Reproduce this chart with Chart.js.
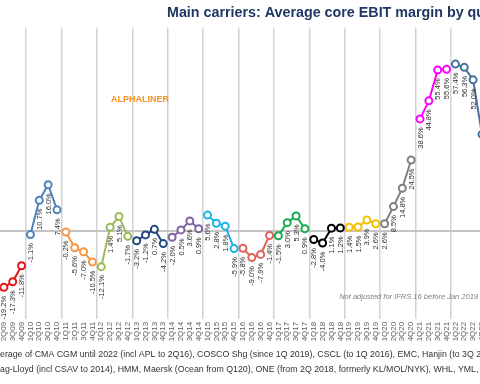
<!DOCTYPE html>
<html>
<head>
<meta charset="utf-8">
<script src="https://cdn.jsdelivr.net/npm/chart.js@4.4.1/dist/chart.umd.min.js"></script>
<style>
  html, body { margin: 0; padding: 0; width: 480px; height: 384px; overflow: hidden; background: #fff; }
  /* le graphique d'origine est recadré : on le dessine plus large et on le décale */
  #wrap { position: absolute; left: -20px; top: 0; width: 520px; height: 384px; }
</style>
</head>
<body>
<div id="wrap"><canvas id="ebitChart"></canvas></div>
<script>
// années affichées (1Q09 -> 4Q22)
var years = ['09', '10', '11', '12', '13', '14', '15', '16', '17', '18', '19', '20', '21', '22'];

// marge EBIT moyenne par trimestre (%), une liste par année
var ebit2009 = [-21.0, -19.2, -17.3, -11.8];
var ebit2010 = [-1.1, 10.7, 16.0, 7.4];
var ebit2011 = [-0.2, -5.6, -7.0, -10.5];
var ebit2012 = [-12.1, 1.4, 5.1, -1.7];
var ebit2013 = [-3.2, -1.2, 0.7, -4.2];
var ebit2014 = [-2.0, 0.5, 3.6, 0.9];
var ebit2015 = [5.6, 2.8, 1.8, -5.9];
var ebit2016 = [-5.8, -9.0, -7.9, -1.4];
var ebit2017 = [-1.5, 3.0, 5.3, 0.9];
var ebit2018 = [-2.8, -4.0, 1.1, 1.2];
var ebit2019 = [1.4, 1.5, 3.9, 2.6];
var ebit2020 = [2.6, 8.5, 14.8, 24.5];
var ebit2021 = [38.6, 44.8, 55.4, 55.6];
var ebit2022 = [57.4, 56.3, 52.0, 33.3];

var ebitByYear = [ebit2009, ebit2010, ebit2011, ebit2012, ebit2013, ebit2014, ebit2015,
                  ebit2016, ebit2017, ebit2018, ebit2019, ebit2020, ebit2021, ebit2022];

var yearColors = ['#e8141c', '#4f81bd', '#f79646', '#9bbb59', '#1f497d', '#8064a2', '#1cb2e8',
                  '#e0625a', '#14ad4e', '#000000', '#f5c000', '#808080', '#ff00ff', '#45729f'];

var shiftX = 20; // décalage du cadre (px)

var quarters = [];
years.forEach(function (y) {
  for (var q = 1; q <= 4; q++) quarters.push(q + 'Q' + y);
});

// un dataset par année, pour que les lignes ne se rejoignent pas
var datasets = ebitByYear.map(function (vals, i) {
  var d = quarters.map(function () { return null; });
  vals.forEach(function (v, k) { d[i * 4 + k] = v; });
  return {
    label: '20' + years[i],
    data: d,
    borderColor: yearColors[i],
    backgroundColor: '#ffffff',
    pointBackgroundColor: '#ffffff',
    pointBorderColor: yearColors[i],
    borderWidth: 2,
    pointRadius: 3.5,
    pointBorderWidth: 2,
    spanGaps: false
  };
});

var textPlugin = {
  id: 'textes',
  afterDatasetsDraw: function (chart) {
    var c = chart.ctx;
    // étiquettes de valeurs, verticales, sous chaque point
    chart.data.datasets.forEach(function (ds, i) {
      var meta = chart.getDatasetMeta(i);
      meta.data.forEach(function (pt, j) {
        var v = ds.data[j];
        if (v === null) return;
        c.save();
        c.translate(pt.x + 0.5, pt.y + 8.5);
        c.rotate(-Math.PI / 2);
        c.textAlign = 'right';
        c.textBaseline = 'middle';
        c.font = '7.5px "Liberation Sans", Arial, sans-serif';
        c.fillStyle = '#2e2e2e';
        c.fillText(v.toFixed(1) + '%', 0, 0);
        c.restore();
      });
    });
  },
  afterDraw: function (chart) {
    var c = chart.ctx;
    c.save();
    // titre
    c.font = 'bold 14.3px "Liberation Sans", Arial, sans-serif';
    c.fillStyle = '#1f3864';
    c.textAlign = 'left';
    c.textBaseline = 'middle';
    c.fillText('Main carriers: Average core EBIT margin by quarter', 167 + shiftX, 13);

    c.font = 'bold 9px "Liberation Sans", Arial, sans-serif';
    c.fillStyle = '#f7901e';
    c.textAlign = 'center';
    c.fillText('ALPHALINER', 140 + shiftX, 100);

    c.font = 'italic 7.5px "Liberation Sans", Arial, sans-serif';
    c.fillStyle = '#808080';
    c.textAlign = 'right';
    c.fillText('Not adjusted for IFRS 16 before Jan 2019', 478 + shiftX, 297);

    // notes du bas (coupées à gauche comme l'original)
    c.font = '8.8px "Liberation Sans Narrow", "Liberation Sans", Arial, sans-serif';
    c.fillStyle = '#333333';
    c.textAlign = 'left';
    var l1 = 'Average of CMA CGM until 2022 (incl APL to 2Q16), COSCO Shg (since 1Q 2019), CSCL (to 1Q 2016), EMC, Hanjin (to 3Q 2016),';
    var l2 = 'Hapag-Lloyd (incl CSAV to 2014), HMM, Maersk (Ocean from Q120), ONE (from 2Q 2018, formerly KL/MOL/NYK), WHL, YML, ZIM';
    c.fillText(l1, shiftX - c.measureText('Av').width, 355);
    c.fillText(l2, shiftX - c.measureText('Hap').width, 370);
    c.restore();
  }
};

var ctx = document.getElementById('ebitChart');

var options = {
  responsive: true,
  maintainAspectRatio: false,
  animation: false,
  layout: { padding: { top: 27.4, bottom: 39.2, left: 10.6, right: 13.6 } },
  plugins: { legend: { display: false }, tooltip: { enabled: false }, title: { display: false } },
  scales: {
    x: {
      type: 'category',
      offset: true,
      border: { display: false },
      grid: {
        offset: true,
        drawTicks: false,
        lineWidth: 1.5,
        color: function (c) { return c.index % 4 === 0 ? '#d2d2d2' : 'rgba(0,0,0,0)'; }
      },
      ticks: {
        autoSkip: false,
        maxRotation: 90,
        minRotation: 90,
        padding: 3,
        color: '#606060',
        font: { size: 8, family: '"Liberation Sans", Arial, sans-serif' }
      },
      afterFit: function (s) { s.height = 26; }
    },
    y: {
      min: -30,
      max: 70,
      border: { display: false },
      grid: {
        drawTicks: false,
        lineWidth: 2,
        color: function (c) { return c.tick && c.tick.value === 0 ? '#c4c4c4' : 'rgba(0,0,0,0)'; }
      },
      ticks: { display: false, stepSize: 10 }
    }
  }
};

var ebitChart = new Chart(ctx, {
  type: 'line',
  data: { labels: quarters, datasets: datasets },
  options: options,
  plugins: [textPlugin]
});
</script>
</body>
</html>
